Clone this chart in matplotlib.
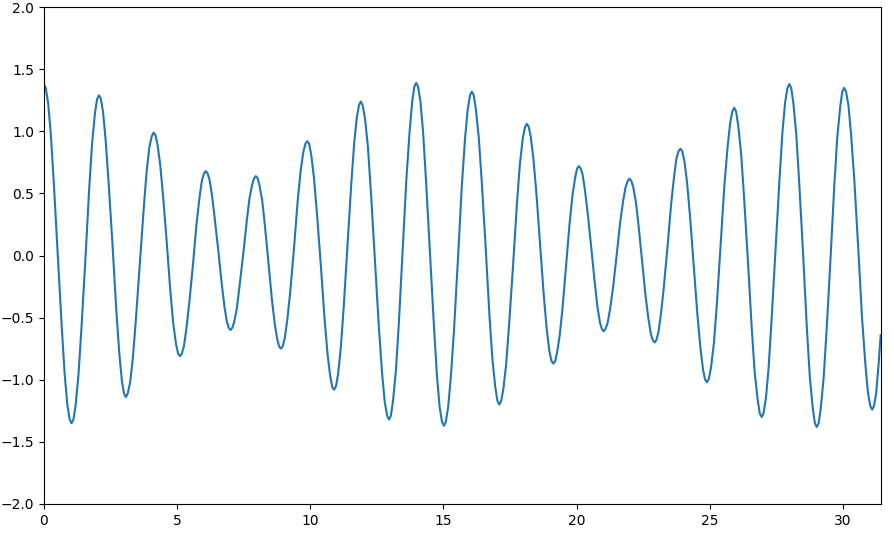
import matplotlib
matplotlib.use("Agg")
import matplotlib.pyplot as plt

# curve samples, one row per half-wave (extremum first)
x = [0.00,
     0.07, 0.16, 0.26, 0.37, 0.52, 0.67, 0.78, 0.88, 0.97, 1.04,
     1.11, 1.19, 1.30, 1.41, 1.56, 1.70, 1.81, 1.92, 2.00, 2.07,
     2.14, 2.22, 2.32, 2.43, 2.58, 2.72, 2.83, 2.93, 3.01, 3.08,
     3.15, 3.24, 3.34, 3.45, 3.60, 3.75, 3.86, 3.96, 4.05, 4.12,
     4.19, 4.27, 4.37, 4.48, 4.62, 4.75, 4.86, 4.96, 5.04, 5.11,
     5.18, 5.26, 5.35, 5.46, 5.60, 5.73, 5.84, 5.93, 6.01, 6.08,
     6.15, 6.22, 6.31, 6.41, 6.55, 6.68, 6.78, 6.87, 6.94, 7.01,
     7.08, 7.15, 7.25, 7.35, 7.49, 7.62, 7.72, 7.82, 7.89, 7.96,
     8.03, 8.10, 8.20, 8.30, 8.43, 8.56, 8.67, 8.76, 8.83, 8.90,
     8.97, 9.05, 9.15, 9.26, 9.40, 9.53, 9.64, 9.74, 9.82, 9.89,
     9.96, 10.04, 10.14, 10.25, 10.40, 10.54, 10.65, 10.75, 10.83, 10.90,
     10.97, 11.05, 11.15, 11.26, 11.40, 11.54, 11.65, 11.75, 11.83, 11.90,
     11.97, 12.06, 12.17, 12.28, 12.43, 12.58, 12.70, 12.80, 12.89, 12.96,
     13.03, 13.11, 13.22, 13.33, 13.47, 13.61, 13.73, 13.83, 13.91, 13.98,
     14.05, 14.14, 14.24, 14.35, 14.50, 14.65, 14.76, 14.86, 14.95, 15.02,
     15.09, 15.18, 15.28, 15.40, 15.55, 15.69, 15.81, 15.91, 16.00, 16.07,
     16.14, 16.22, 16.33, 16.44, 16.59, 16.73, 16.84, 16.95, 17.03, 17.10,
     17.17, 17.25, 17.36, 17.47, 17.62, 17.76, 17.87, 17.98, 18.06, 18.13,
     18.20, 18.28, 18.38, 18.49, 18.63, 18.77, 18.88, 18.98, 19.06, 19.13,
     19.20, 19.27, 19.37, 19.48, 19.61, 19.74, 19.85, 19.95, 20.02, 20.09,
     20.16, 20.23, 20.32, 20.42, 20.56, 20.69, 20.79, 20.88, 20.95, 21.02,
     21.09, 21.17, 21.26, 21.37, 21.51, 21.64, 21.75, 21.84, 21.92, 21.99,
     22.06, 22.13, 22.23, 22.33, 22.46, 22.59, 22.70, 22.79, 22.86, 22.93,
     23.00, 23.08, 23.17, 23.28, 23.42, 23.55, 23.66, 23.75, 23.83, 23.90,
     23.97, 24.05, 24.15, 24.26, 24.40, 24.54, 24.65, 24.75, 24.83, 24.90,
     24.97, 25.05, 25.16, 25.27, 25.41, 25.55, 25.67, 25.77, 25.85, 25.92,
     25.99, 26.07, 26.18, 26.29, 26.44, 26.58, 26.69, 26.80, 26.88, 26.95,
     27.02, 27.11, 27.21, 27.32, 27.47, 27.62, 27.73, 27.83, 27.92, 27.99,
     28.06, 28.14, 28.25, 28.36, 28.51, 28.65, 28.76, 28.87, 28.95, 29.02,
     29.09, 29.17, 29.28, 29.39, 29.54, 29.68, 29.79, 29.90, 29.98, 30.05,
     30.12, 30.21, 30.31, 30.43, 30.58, 30.72, 30.84, 30.94, 31.03, 31.10,
     31.17, 31.25, 31.34, 31.42]

y = [1.38,
     1.35, 1.23, 0.98, 0.60, 0.02, -0.57, -0.95, -1.20, -1.32, -1.35,
     -1.32, -1.21, -0.96, -0.59, -0.03, 0.53, 0.90, 1.15, 1.26, 1.29,
     1.26, 1.16, 0.93, 0.59, 0.08, -0.44, -0.78, -1.01, -1.11, -1.14,
     -1.11, -1.02, -0.83, -0.53, -0.07, 0.38, 0.68, 0.87, 0.96, 0.99,
     0.97, 0.89, 0.73, 0.47, 0.09, -0.29, -0.55, -0.71, -0.79, -0.81,
     -0.79, -0.73, -0.59, -0.38, -0.07, 0.25, 0.46, 0.60, 0.66, 0.68,
     0.66, 0.61, 0.49, 0.31, 0.04, -0.23, -0.41, -0.53, -0.58, -0.60,
     -0.58, -0.53, -0.42, -0.24, 0.02, 0.28, 0.46, 0.57, 0.62, 0.64,
     0.62, 0.56, 0.44, 0.24, -0.05, -0.35, -0.55, -0.67, -0.73, -0.75,
     -0.73, -0.66, -0.50, -0.27, 0.08, 0.44, 0.68, 0.83, 0.90, 0.92,
     0.90, 0.81, 0.63, 0.35, -0.08, -0.51, -0.79, -0.97, -1.06, -1.08,
     -1.05, -0.95, -0.74, -0.41, 0.08, 0.57, 0.90, 1.11, 1.21, 1.24,
     1.21, 1.10, 0.87, 0.51, -0.04, -0.58, -0.95, -1.18, -1.29, -1.32,
     -1.29, -1.17, -0.92, -0.54, 0.04, 0.61, 0.99, 1.24, 1.36, 1.39,
     1.36, 1.24, 0.99, 0.60, 0.01, -0.58, -0.97, -1.22, -1.34, -1.37,
     -1.34, -1.22, -0.98, -0.60, -0.02, 0.55, 0.93, 1.17, 1.29, 1.32,
     1.29, 1.18, 0.95, 0.60, 0.06, -0.48, -0.83, -1.06, -1.17, -1.20,
     -1.17, -1.08, -0.87, -0.55, -0.07, 0.41, 0.73, 0.94, 1.03, 1.06,
     1.04, 0.96, 0.78, 0.51, 0.09, -0.32, -0.59, -0.77, -0.85, -0.87,
     -0.85, -0.78, -0.64, -0.41, -0.07, 0.26, 0.49, 0.63, 0.70, 0.72,
     0.70, 0.65, 0.52, 0.34, 0.05, -0.23, -0.42, -0.54, -0.59, -0.61,
     -0.59, -0.54, -0.43, -0.26, 0.01, 0.27, 0.44, 0.55, 0.60, 0.62,
     0.60, 0.55, 0.43, 0.24, -0.04, -0.32, -0.51, -0.63, -0.68, -0.70,
     -0.68, -0.61, -0.47, -0.25, 0.08, 0.41, 0.63, 0.78, 0.84, 0.86,
     0.84, 0.76, 0.59, 0.32, -0.08, -0.48, -0.74, -0.92, -1.00, -1.02,
     -0.99, -0.90, -0.70, -0.39, 0.09, 0.56, 0.87, 1.07, 1.16, 1.19,
     1.16, 1.05, 0.82, 0.47, -0.06, -0.59, -0.94, -1.16, -1.27, -1.30,
     -1.27, -1.15, -0.91, -0.53, 0.04, 0.61, 0.99, 1.23, 1.35, 1.38,
     1.35, 1.23, 0.98, 0.59, 0.00, -0.59, -0.98, -1.23, -1.35, -1.38,
     -1.35, -1.23, -0.98, -0.60, -0.01, 0.57, 0.95, 1.20, 1.32, 1.35,
     1.32, 1.21, 0.97, 0.61, 0.05, -0.50, -0.86, -1.10, -1.21, -1.24,
     -1.21, -1.11, -0.88, -0.64]

x_ticks = [0, 5, 10, 15, 20, 25, 30]
y_ticks = [-2.0, -1.5, -1.0, -0.5, 0.0, 0.5, 1.0, 1.5, 2.0]

fig, ax = plt.subplots(figsize=(8.95, 5.49), dpi=100)
fig.subplots_adjust(left=0.049, right=0.984, top=0.987, bottom=0.082)

ax.plot(x, y, color='#1f77b4', lw=1.5)
ax.set_xlim(0, 31.42)
ax.set_ylim(-2, 2)
ax.set_xticks(x_ticks)
ax.set_yticks(y_ticks)

fig.savefig('out.png', dpi=100)
